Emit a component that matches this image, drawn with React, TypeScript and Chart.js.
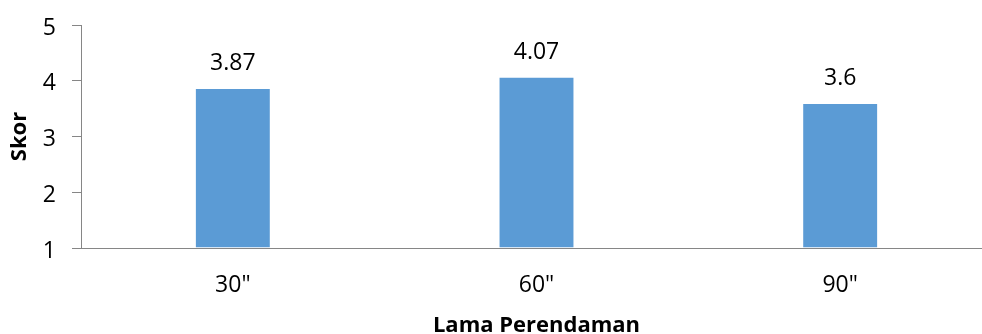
import { useEffect, useRef } from "react";
import { Chart, registerables } from "chart.js";

Chart.register(...registerables);

// Scores per soaking time
const categories = ['30"', '60"', '90"'];
const scores = [3.87, 4.07, 3.6];
const yMin = 1;
const yMax = 5;
const yStep = 1;

const FONT = "'Open Sans', 'DejaVu Sans', sans-serif";
const AXIS_GRAY = "#868686";
const BAR_BLUE = "#5B9BD5";

// Writes each bar's value above it
const valueLabels = {
  id: "valueLabels",
  afterDatasetsDraw(chart: any) {
    const { ctx } = chart;
    const meta = chart.getDatasetMeta(0);
    ctx.save();
    ctx.font = `23px ${FONT}`;
    ctx.fillStyle = "#000";
    ctx.textAlign = "center";
    ctx.textBaseline = "alphabetic";
    meta.data.forEach((bar: any, i: number) => {
      ctx.fillText(String(scores[i]), bar.x, bar.y - 18);
    });
    ctx.restore();
  },
};

export default function App() {
  const canvasRef = useRef<HTMLCanvasElement | null>(null);

  useEffect(() => {
    if (!canvasRef.current) return;
    const chart = new Chart(canvasRef.current, {
      type: "bar",
      data: {
        labels: categories,
        datasets: [
          {
            data: scores,
            backgroundColor: BAR_BLUE,
            borderColor: "rgba(255,255,255,0.35)",
            borderWidth: 1,
            categoryPercentage: 0.25,
            barPercentage: 1,
            base: yMin,
          },
        ],
      },
      options: {
        responsive: false,
        animation: false,
        layout: { padding: { top: 25, left: 0, right: 0, bottom: 0 } },
        plugins: {
          legend: { display: false },
          tooltip: { enabled: false },
        },
        scales: {
          x: {
            grid: { display: false, drawTicks: false },
            border: { display: true, color: AXIS_GRAY, width: 1 },
            ticks: {
              color: "#000",
              font: { family: FONT, size: 23 },
              padding: 24,
            },
            title: {
              display: true,
              text: "Lama Perendaman",
              color: "#000",
              font: { family: FONT, size: 22, weight: "bold" },
              padding: { top: 0, bottom: 0 },
            },
            afterFit(scale: any) {
              scale.height = 91;
              scale.paddingLeft = 0;
              scale.paddingRight = 0;
            },
          },
          y: {
            min: yMin,
            max: yMax,
            grid: {
              display: true,
              drawOnChartArea: false,
              drawTicks: true,
              tickLength: 9,
              color: AXIS_GRAY,
            },
            border: { display: true, color: AXIS_GRAY, width: 1 },
            ticks: {
              stepSize: yStep,
              color: "#000",
              font: { family: FONT, size: 23 },
              padding: 16,
              labelOffset: 3,
            },
            title: {
              display: true,
              text: "Skor",
              color: "#000",
              font: { family: FONT, size: 22, weight: "bold" },
              padding: { top: 7, bottom: 0 },
            },
            afterFit(scale: any) {
              scale.width = 81;
              scale.paddingTop = 0;
              scale.paddingBottom = 0;
            },
          },
        },
      },
      plugins: [valueLabels],
    });
    return () => chart.destroy();
  }, []);

  return (
    <div
      style={{
        position: "fixed",
        left: 0,
        top: 0,
        width: 982,
        height: 334,
        overflow: "hidden",
        background: "#fff",
      }}
    >
      <canvas ref={canvasRef} width={992} height={339} />
    </div>
  );
}
